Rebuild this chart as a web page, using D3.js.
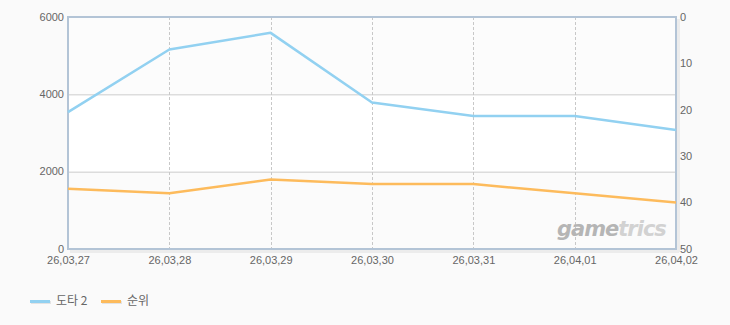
<!DOCTYPE html>
<html><head><meta charset="utf-8">
<script src="https://cdn.jsdelivr.net/npm/d3@7"></script>
<style>
html,body{margin:0;padding:0;background:#fafafa;}
svg{display:block;font-family:"Liberation Sans","DejaVu Sans",sans-serif;}
</style></head>
<body><svg id="c" width="730" height="325"></svg>
<script>
const categories = ["26,03,27","26,03,28","26,03,29","26,03,30","26,03,31","26,04,01","26,04,02"];
const seriesNames = ["도타 2","순위"];
const players = [3540, 5160, 5590, 3790, 3440, 3440, 3080];
const ranks = [37, 38, 35, 36, 36, 38, 40];
const leftTicks = [0, 2000, 4000, 6000];
const rightTicks = [0, 10, 20, 30, 40, 50];
const colors = ["#92d1f1", "#fdbb5c"];

const m = {l:68, r:676, t:17, b:249};
const svg = d3.select("#c");
const x = d3.scalePoint().domain(categories).range([m.l, m.r]);
const yL = d3.scaleLinear().domain([0, 6000]).range([m.b, m.t]);
const yR = d3.scaleLinear().domain([0, 50]).range([m.t, m.b]);

// bands
const bands = [[4000,6000,"#fcfcfc"],[2000,4000,"#ffffff"],[0,2000,"#fbfbfb"]];
svg.selectAll("rect.band").data(bands).join("rect")
  .attr("x", m.l).attr("width", m.r - m.l)
  .attr("y", d => yL(d[1])).attr("height", d => yL(d[0]) - yL(d[1]))
  .attr("fill", d => d[2]);

// shadow at right & bottom
svg.append("rect").attr("x", m.r+1).attr("y", m.t+2).attr("width", 3).attr("height", m.b - m.t + 1).attr("fill", "#ececec");
svg.append("rect").attr("x", m.l+2).attr("y", m.b+1).attr("width", m.r - m.l + 1).attr("height", 3).attr("fill", "#ececec");

// horizontal grid
svg.selectAll("line.hg").data([2000,4000]).join("line")
  .attr("x1", m.l).attr("x2", m.r).attr("y1", d => yL(d)+0.5).attr("y2", d => yL(d)+0.5)
  .attr("stroke", "#cccccc").attr("stroke-width", 1);

// vertical dashed grid
svg.selectAll("line.vg").data(categories.slice(1, -1)).join("line")
  .attr("x1", d => Math.round(x(d))+0.5).attr("x2", d => Math.round(x(d))+0.5)
  .attr("y1", m.t).attr("y2", m.b)
  .attr("stroke", "#c8c8c8").attr("stroke-dasharray", "3,2");

// watermark
const wm = svg.append("text").attr("x", 557).attr("y", 236)
  .attr("font-family", "'DejaVu Sans', sans-serif").attr("font-weight", "bold").attr("font-style", "italic")
  .attr("font-size", 21).attr("letter-spacing", "-1");
wm.append("tspan").attr("fill", "#b5b5b5").text("game");
wm.append("tspan").attr("fill", "#d2d2d2").text("trics");

// frame
svg.append("rect").attr("x", m.l).attr("y", m.t).attr("width", m.r - m.l).attr("height", m.b - m.t)
  .attr("fill", "none").attr("stroke", "#b3c4d6").attr("stroke-width", 2);

// lines
const lineL = d3.line().x((d,i) => x(categories[i])).y(d => yL(d));
const lineR = d3.line().x((d,i) => x(categories[i])).y(d => yR(d));
svg.append("path").attr("d", lineR(ranks)).attr("fill", "none").attr("stroke", colors[1]).attr("stroke-width", 2.5).attr("stroke-linejoin", "round");
svg.append("path").attr("d", lineL(players)).attr("fill", "none").attr("stroke", colors[0]).attr("stroke-width", 2.5).attr("stroke-linejoin", "round");

// axes text
const axL = d3.axisLeft(yL).tickValues(leftTicks).tickFormat(d3.format("d")).tickSize(0).tickPadding(3);
const gL = svg.append("g").attr("transform", `translate(${m.l-1},0)`).call(axL);
const axR = d3.axisRight(yR).tickValues(rightTicks).tickFormat(d3.format("d")).tickSize(0).tickPadding(3);
const gR = svg.append("g").attr("transform", `translate(${m.r+1},0)`).call(axR);
const axB = d3.axisBottom(x).tickSize(0).tickPadding(7);
const gB = svg.append("g").attr("transform", `translate(0,${m.b})`).call(axB);
[gL, gR, gB].forEach(g => {
  g.select(".domain").remove();
  g.selectAll("text").attr("fill", "#666").attr("font-size", 11).attr("font-family", "'Liberation Sans', sans-serif");
});
gL.selectAll("text").attr("dy", "0.3em");
gR.selectAll("text").attr("dy", "0.3em");

// legend
const leg = svg.append("g");
const lx = [30, 101];
seriesNames.forEach((n, i) => {
  leg.append("rect").attr("x", lx[i]+1).attr("y", 301).attr("width", 20).attr("height", 3).attr("fill", "#e3e3e3");
  leg.append("rect").attr("x", lx[i]).attr("y", 300).attr("width", 20).attr("height", 3).attr("fill", colors[i]);
  leg.append("text").attr("x", lx[i]+26).attr("y", 305).attr("fill", "#666").attr("font-size", 12)
    .attr("font-family", "'Noto Sans CJK KR', sans-serif").text(n);
});
</script></body></html>
